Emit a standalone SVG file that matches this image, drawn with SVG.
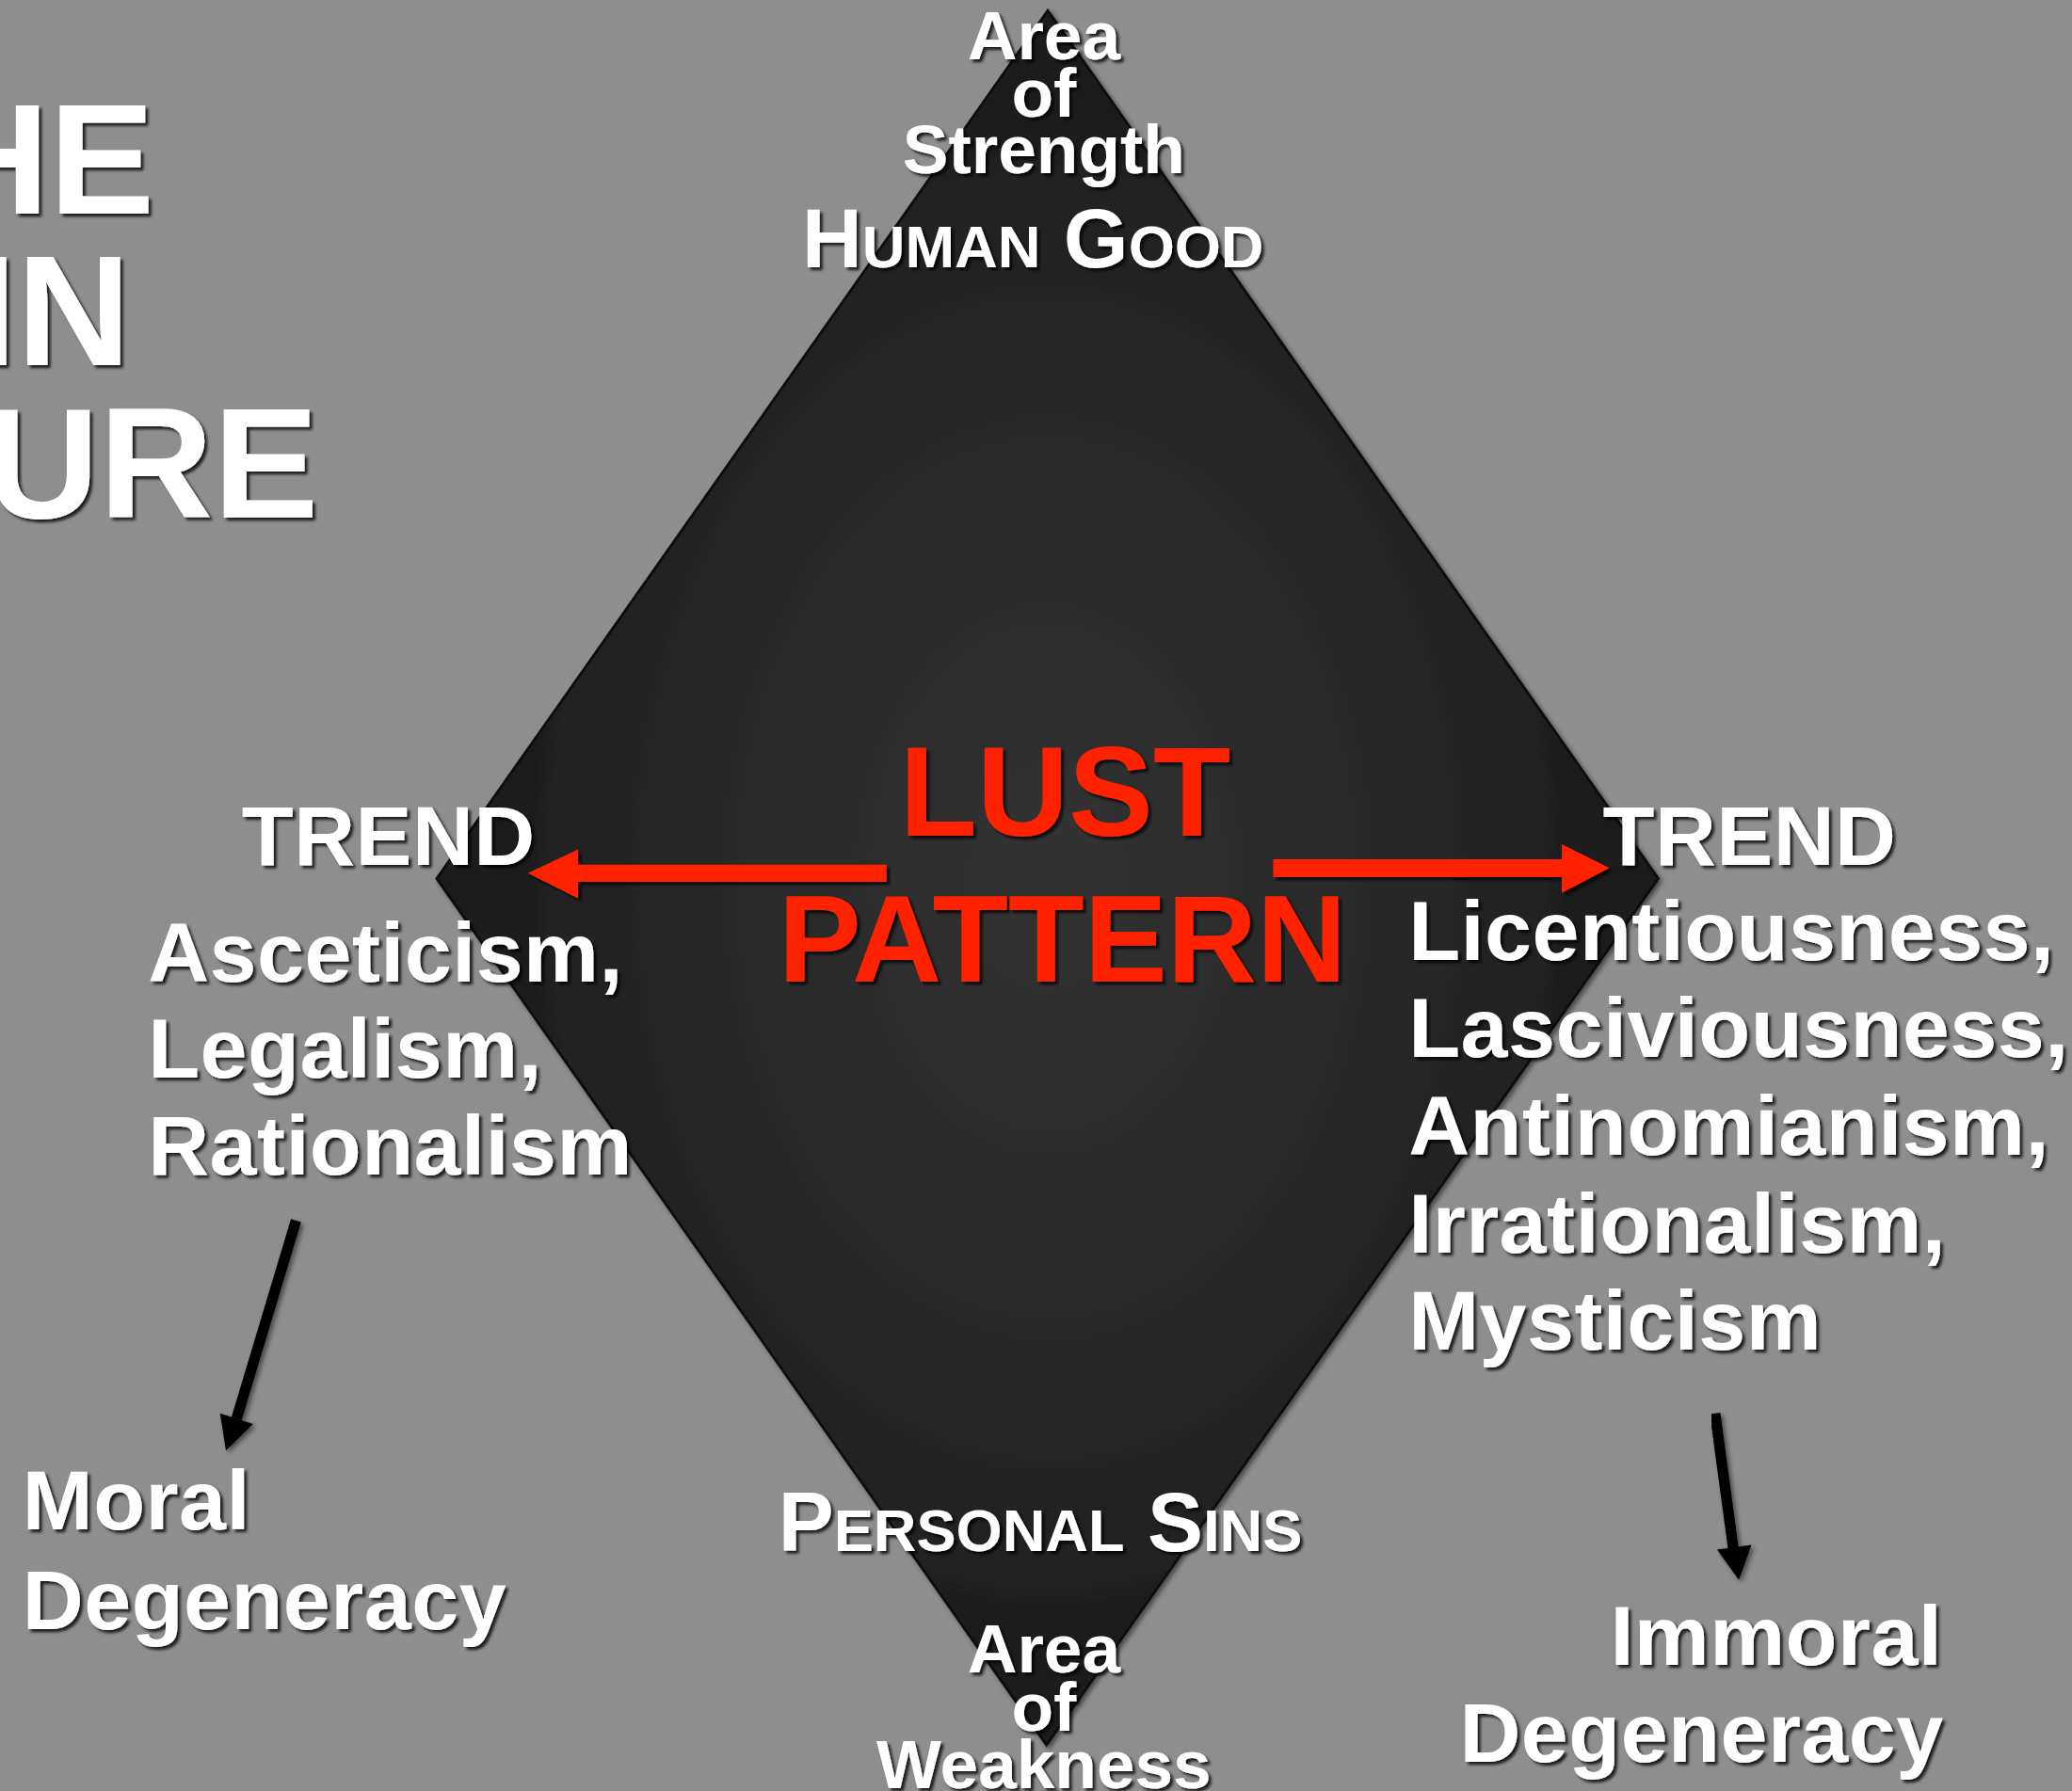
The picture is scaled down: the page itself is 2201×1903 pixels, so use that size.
<svg xmlns="http://www.w3.org/2000/svg" width="2201" height="1903" viewBox="0 0 2201 1903">
  <defs>
    <radialGradient id="dg" cx="0.5" cy="0.5" r="0.5">
      <stop offset="0" stop-color="#323232"/>
      <stop offset="0.6" stop-color="#272727"/>
      <stop offset="1" stop-color="#1a1a1a"/>
    </radialGradient>
    <filter id="sh" x="-10%" y="-20%" width="130%" height="150%">
      <feDropShadow dx="2.2" dy="2.2" stdDeviation="1.3" flood-color="#000" flood-opacity="0.8"/>
    </filter>
    <filter id="dsh" x="-10%" y="-10%" width="130%" height="130%">
      <feDropShadow dx="2" dy="2" stdDeviation="2" flood-color="#000" flood-opacity="0.5"/>
    </filter>
  </defs>
  <style>
    text { font-family: "Liberation Sans", Arial, sans-serif; font-weight: bold; }
    .w { fill: #ffffff; filter: url(#sh); }
    .r { fill: #ff2200; filter: url(#sh); }
    .big { font-size: 119.5px; }
    .area { font-size: 52px; text-anchor: middle; }
    .lbl { font-size: 64px; letter-spacing: 0.35px; }
    .sc { font-size: 45px; }
    .hg { font-size: 63px; letter-spacing: 0; }
    .red { fill: #ff2200; }
    .blk { stroke: #000; stroke-width: 8; fill: none; }
    .bkh { fill: #000; }
  </style>
  <rect x="0" y="0" width="2201" height="1903" fill="#8e8e8e"/>
  <g transform="scale(1.4036)">
    <g id="diamond">
      <polygon points="793,8 1255,665 792,1321 330.5,665" fill="url(#dg)" stroke="#0e0e0e" stroke-width="2" filter="url(#dsh)"/>
    </g>

    <g id="title">
      <text class="w big" x="117" y="161.5" text-anchor="end">HE</text>
      <text class="w big" x="99" y="276.5" text-anchor="end">IN</text>
      <text class="w big" x="241" y="392" text-anchor="end">URE</text>
    </g>

    <g id="top-label">
      <text class="w area" x="790" y="45">Area</text>
      <text class="w area" x="790" y="88">of</text>
      <text class="w area" x="790" y="131">Strength</text>
      <text class="w hg" x="607" y="202">H<tspan class="sc">UMAN</tspan> G<tspan class="sc">OOD</tspan></text>
    </g>

    <g id="center-label">
      <text class="r" x="806" y="633" font-size="96" text-anchor="middle">LUST</text>
      <text class="r" x="804" y="743" font-size="94" text-anchor="middle">PATTERN</text>
    </g>

    <g id="left-trend">
      <text class="w lbl" x="183" y="655">TREND</text>
      <text class="w lbl" x="112" y="743">Asceticism,</text>
      <text class="w lbl" x="112" y="816">Legalism,</text>
      <text class="w lbl" x="112" y="889">Rationalism</text>
    </g>

    <g id="right-trend">
      <text class="w lbl" x="1213" y="655">TREND</text>
      <text class="w lbl" x="1066" y="727">Licentiousness,</text>
      <text class="w lbl" x="1066" y="800">Lasciviousness,</text>
      <text class="w lbl" x="1066" y="874">Antinomianism,</text>
      <text class="w lbl" x="1066" y="948">Irrationalism,</text>
      <text class="w lbl" x="1066" y="1022">Mysticism</text>
    </g>

    <g id="moral">
      <text class="w lbl" x="17" y="1158">Moral</text>
      <text class="w lbl" x="17" y="1233">Degeneracy</text>
    </g>

    <g id="immoral">
      <text class="w lbl" x="1470" y="1260" text-anchor="end">Immoral</text>
      <text class="w lbl" x="1471" y="1334" text-anchor="end">Degeneracy</text>
    </g>

    <g id="bottom-label">
      <text class="w hg" x="589" y="1174">P<tspan class="sc">ERSONAL</tspan> S<tspan class="sc">INS</tspan></text>
      <text class="w area" x="790" y="1266">Area</text>
      <text class="w area" x="790" y="1310">of</text>
      <text class="w area" x="790" y="1354">Weakness</text>
    </g>

    <g id="connectors">
      <polygon class="red" filter="url(#sh)" points="671,654.5 437.5,654.5 437.5,643 399.5,661 437.5,680 437.5,667.5 671,667.5"/>
      <polygon class="red" filter="url(#sh)" points="963.5,650.5 1182,650.5 1182,639 1218,657 1182,676 1182,664 963.5,664"/>
      <g filter="url(#dsh)">
        <line class="blk" x1="224" y1="924" x2="179" y2="1074"/>
        <polygon class="bkh" points="171,1098 166.5,1070 191.5,1078"/>
      </g>
      <g filter="url(#dsh)">
        <line class="blk" x1="1298" y1="1070" x2="1312" y2="1174"/>
        <polygon class="bkh" points="1316,1196 1299.5,1173 1325.5,1169.5"/>
      </g>
    </g>
  </g>
</svg>
